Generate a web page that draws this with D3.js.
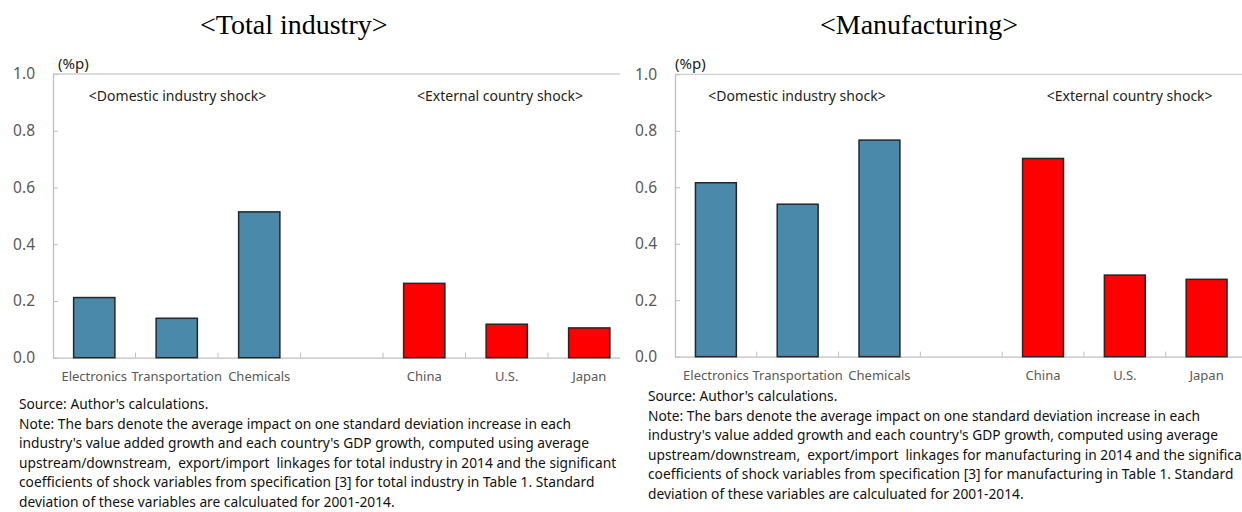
<!DOCTYPE html>
<html><head><meta charset="utf-8">
<script src="https://cdn.jsdelivr.net/npm/d3@7"></script>
<style>
html,body{margin:0;padding:0;background:#fff;}
svg{display:block;}
text{white-space:pre;}
</style></head>
<body>
<svg id="chart" width="1242" height="512"></svg>
<script>
// ---- data ----
const categories = ["Electronics", "Transportation", "Chemicals", "", "China", "U.S.", "Japan"];
const shockType = ["domestic", "domestic", "domestic", null, "external", "external", "external"];
const totalValues = [0.212, 0.139, 0.514, null, 0.262, 0.118, 0.105];
const manufValues = [0.616, 0.540, 0.767, null, 0.702, 0.289, 0.274];
const yTicks = [0.0, 0.2, 0.4, 0.6, 0.8, 1.0];
const titles = ["<Total industry>", "<Manufacturing>"];
const shockLabels = ["<Domestic industry shock>", "<External country shock>"];
const unitLabel = "(%p)";
const notesTotal = [
  "Source: Author's calculations.",
  "Note: The bars denote the average impact on one standard deviation increase in each",
  "industry's value added growth and each country's GDP growth, computed using average",
  "upstream/downstream,  export/import  linkages for total industry in 2014 and the significant",
  "coefficients of shock variables from specification [3] for total industry in Table 1. Standard",
  "deviation of these variables are calculuated for 2001-2014."
];
const notesManuf = [
  "Source: Author's calculations.",
  "Note: The bars denote the average impact on one standard deviation increase in each",
  "industry's value added growth and each country's GDP growth, computed using average",
  "upstream/downstream,  export/import  linkages for manufacturing in 2014 and the significant",
  "coefficients of shock variables from specification [3] for manufacturing in Table 1. Standard",
  "deviation of these variables are calculuated for 2001-2014."
];

const colors = { domestic: "#4a89aa", external: "#ff0000" };
const sansFont = "'Noto Sans', 'Open Sans', sans-serif";
const serifFont = "'Liberation Serif', 'Times New Roman', serif";

const svg = d3.select("#chart");

function drawPanel(opt) {
  const defs = svg.append("defs");
  defs.append("clipPath").attr("id", opt.id + "-clip")
    .append("rect").attr("x", opt.clipX0).attr("y", 0)
    .attr("width", opt.clipX1 - opt.clipX0).attr("height", 512);

  const g = svg.append("g").attr("clip-path", `url(#${opt.id}-clip)`);

  // title
  g.append("text").attr("x", opt.titleX).attr("y", 34)
    .attr("font-family", serifFont).attr("font-size", 28).attr("fill", "#000")
    .text(opt.title);

  const x = d3.scaleBand().domain(categories)
    .range([opt.x0, opt.x1]).paddingInner(0.5).paddingOuter(0.25);
  const y = d3.scaleLinear().domain([0, 1]).range([opt.y0, opt.y1]);

  // top border line at 1.0
  g.append("line").attr("x1", opt.x0).attr("x2", opt.x1)
    .attr("y1", y(1)).attr("y2", y(1))
    .attr("stroke", "#d0d0d0").attr("stroke-width", 1.3);

  // y axis
  const yAxis = g.append("g").attr("transform", `translate(${opt.x0},0)`)
    .call(d3.axisLeft(y).tickValues(yTicks).tickFormat(d3.format(".1f"))
      .tickSizeInner(-5).tickSizeOuter(0).tickPadding(18));
  yAxis.select(".domain").attr("stroke", "#bfbfbf").attr("stroke-width", 1.3);
  yAxis.selectAll(".tick line").attr("stroke", "#bfbfbf");
  yAxis.selectAll(".tick text").attr("font-family", sansFont).attr("font-size", 15.5)
    .attr("fill", "#595959");

  // x axis
  const xAxis = g.append("g").attr("transform", `translate(0,${opt.y0})`)
    .call(d3.axisBottom(x).tickSize(0).tickPadding(14));
  xAxis.select(".domain").attr("stroke", "#bfbfbf").attr("stroke-width", 1.3);
  xAxis.selectAll(".tick text").attr("font-family", sansFont).attr("font-size", 13)
    .attr("fill", "#595959");

  // boundary tick marks between categories
  const step = x.step();
  g.append("g").selectAll("line").data(d3.range(1, categories.length))
    .join("line")
    .attr("x1", k => opt.x0 + k * step).attr("x2", k => opt.x0 + k * step)
    .attr("y1", opt.y0).attr("y2", opt.y0 - 5)
    .attr("stroke", "#bfbfbf").attr("stroke-width", 1);

  // bars
  const barData = categories.map((c, i) => ({ c, v: opt.values[i], t: shockType[i] }))
    .filter(d => d.v != null);
  g.append("g").selectAll("rect").data(barData).join("rect")
    .attr("x", d => x(d.c)).attr("width", x.bandwidth())
    .attr("y", d => y(d.v)).attr("height", d => y(0) - y(d.v))
    .attr("fill", d => colors[d.t]).attr("stroke", "#262626").attr("stroke-width", 1.5);

  // unit label
  g.append("text").attr("x", opt.unitX).attr("y", 69)
    .attr("font-family", sansFont).attr("font-size", 15).attr("fill", "#222")
    .text(unitLabel);

  // shock labels
  g.append("text").attr("x", opt.domX).attr("y", 101).attr("text-anchor", "middle")
    .attr("font-family", sansFont).attr("font-size", 14).attr("fill", "#222")
    .text(shockLabels[0]);
  g.append("text").attr("x", opt.extX).attr("y", 101).attr("text-anchor", "middle")
    .attr("font-family", sansFont).attr("font-size", 14).attr("fill", "#222")
    .text(shockLabels[1]);

  // notes
  g.append("g").selectAll("text").data(opt.notes).join("text")
    .attr("x", opt.noteX).attr("y", (d, i) => opt.noteY + i * 19.6)
    .attr("font-family", sansFont).attr("font-size", 13.75).attr("fill", "#111")
    .text(d => d);
}

drawPanel({
  id: "p1", title: titles[0], titleX: 200, values: totalValues,
  x0: 53, x1: 630.5, y0: 357.7, y1: 74,
  clipX0: 0, clipX1: 620,
  unitX: 58, domX: 177.5, extX: 500,
  notes: notesTotal, noteX: 19, noteY: 409
});
drawPanel({
  id: "p2", title: titles[1], titleX: 820, values: manufValues,
  x0: 675, x1: 1247.5, y0: 356.7, y1: 74.3,
  clipX0: 620, clipX1: 1242,
  unitX: 675, domX: 797, extX: 1129.7,
  notes: notesManuf, noteX: 648, noteY: 401
});
</script>
</body></html>
